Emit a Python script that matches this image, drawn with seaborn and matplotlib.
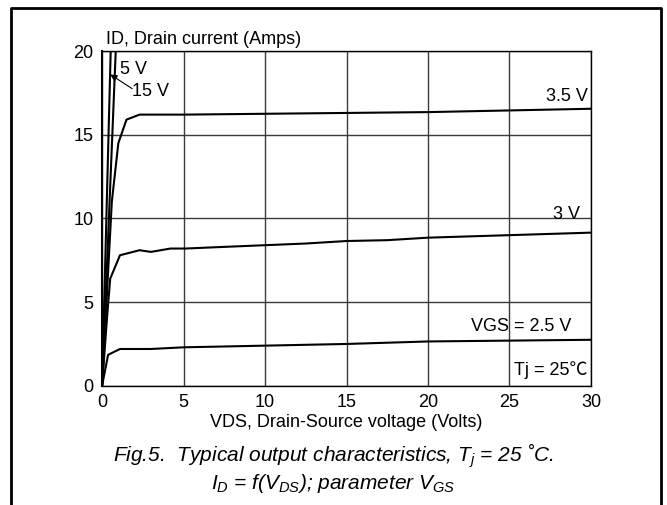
import pandas as pd
import matplotlib
matplotlib.use("Agg")
import matplotlib.pyplot as plt
import seaborn as sns
from matplotlib.lines import Line2D

# curves, VDS (Volts) vs ID (Amps)
vds_15v = [0, 0.53]
id_15v = [0, 20]
vds_5v = [0, 0.84]
id_5v = [0, 20]
vds_35v = [0, 0.3, 0.6, 1.0, 1.5, 2.3, 5, 10, 15, 20, 25, 30]
id_35v = [0, 5.5, 11.0, 14.5, 15.9, 16.2, 16.2, 16.25, 16.3, 16.35, 16.45, 16.55]
vds_3v = [0, 0.3, 0.5, 1.1, 2.3, 3.0, 4.2, 5.1, 7.5, 10, 12.5, 15, 17.5, 20, 25, 30]
id_3v = [0, 4.0, 6.4, 7.8, 8.1, 8.0, 8.2, 8.2, 8.3, 8.4, 8.5, 8.65, 8.7, 8.85, 9.0, 9.15]
vds_25v = [0, 0.37, 1.1, 3.0, 5, 10, 15, 20, 25, 30]
id_25v = [0, 1.85, 2.2, 2.2, 2.3, 2.4, 2.5, 2.65, 2.7, 2.75]

xticks = [0, 5, 10, 15, 20, 25, 30]
yticks = [0, 5, 10, 15, 20]

frames = []
for name, xs, ys in [("15 V", vds_15v, id_15v), ("5 V", vds_5v, id_5v),
                     ("3.5 V", vds_35v, id_35v), ("3 V", vds_3v, id_3v),
                     ("2.5 V", vds_25v, id_25v)]:
    frames.append(pd.DataFrame({"VDS": xs, "ID": ys, "VGS": name}))
df = pd.concat(frames, ignore_index=True)

sns.set_style("white")
plt.rcParams["font.family"] = ["Liberation Sans", "DejaVu Sans"]
plt.rcParams["text.color"] = "black"
plt.rcParams["axes.labelcolor"] = "black"
plt.rcParams["mathtext.fontset"] = "custom"
plt.rcParams["mathtext.it"] = "Liberation Sans:italic"
plt.rcParams["mathtext.rm"] = "Liberation Sans:italic"

fig = plt.figure(figsize=(6.67, 5.05), dpi=100)
ax = fig.add_axes([0.153, 0.236, 0.733, 0.663])

sns.lineplot(data=df, x="VDS", y="ID", units="VGS", estimator=None, sort=False,
             color="black", linewidth=1.5, ax=ax, legend=False)

ax.set_xlim(0, 30)
ax.set_ylim(0, 20)
ax.set_xticks(xticks)
ax.set_yticks(yticks)
ax.grid(True, color="#3a3a3a", linewidth=1.0)
ax.tick_params(length=0, labelsize=13, pad=6, colors="black")
for s in ax.spines.values():
    s.set_color("black")
    s.set_linewidth(1.0)
ax.spines["left"].set_linewidth(1.5)
ax.set_xlabel("VDS, Drain-Source voltage (Volts)", fontsize=13, labelpad=2)
ax.set_ylabel("")
ax.text(0.008, 1.008, "ID, Drain current (Amps)", transform=ax.transAxes,
        fontsize=13, ha="left", va="bottom")

ax.text(1.1, 18.9, "5 V", fontsize=13, ha="left", va="center")
ax.text(1.85, 17.6, "15 V", fontsize=13, ha="left", va="center")
ax.annotate("", xy=(0.5, 18.6), xytext=(1.85, 17.75),
            arrowprops=dict(arrowstyle="-|>", color="black", lw=0.8,
                            mutation_scale=10, shrinkA=0, shrinkB=0))
ax.text(29.8, 16.8, "3.5 V", fontsize=13, ha="right", va="bottom")
ax.text(29.3, 9.7, "3 V", fontsize=13, ha="right", va="bottom")
ax.text(28.8, 3.55, "VGS = 2.5 V", fontsize=13, ha="right", va="center")
ax.text(29.8, 0.95, "Tj = 25\u2103", fontsize=13, ha="right", va="center",
        family=["Liberation Sans", "Noto Sans CJK SC"])

fig.text(0.5, 0.098, "Fig.5.  Typical output characteristics, $T_j$ = 25 \u02daC.",
         fontsize=15, style="italic", ha="center", va="center")
fig.text(0.5, 0.042, "$I_D$ = f($V_{DS}$); parameter $V_{GS}$",
         fontsize=15, style="italic", ha="center", va="center")

# outer frame (open at the bottom)
fx0, fx1, fy = 10.5 / 667, 661 / 667, 1 - 8 / 505
fig.add_artist(Line2D([fx0, fx0, fx1, fx1], [0, fy, fy, 0],
                      transform=fig.transFigure, color="black", linewidth=2.0))

fig.savefig("out.png", dpi=100)
